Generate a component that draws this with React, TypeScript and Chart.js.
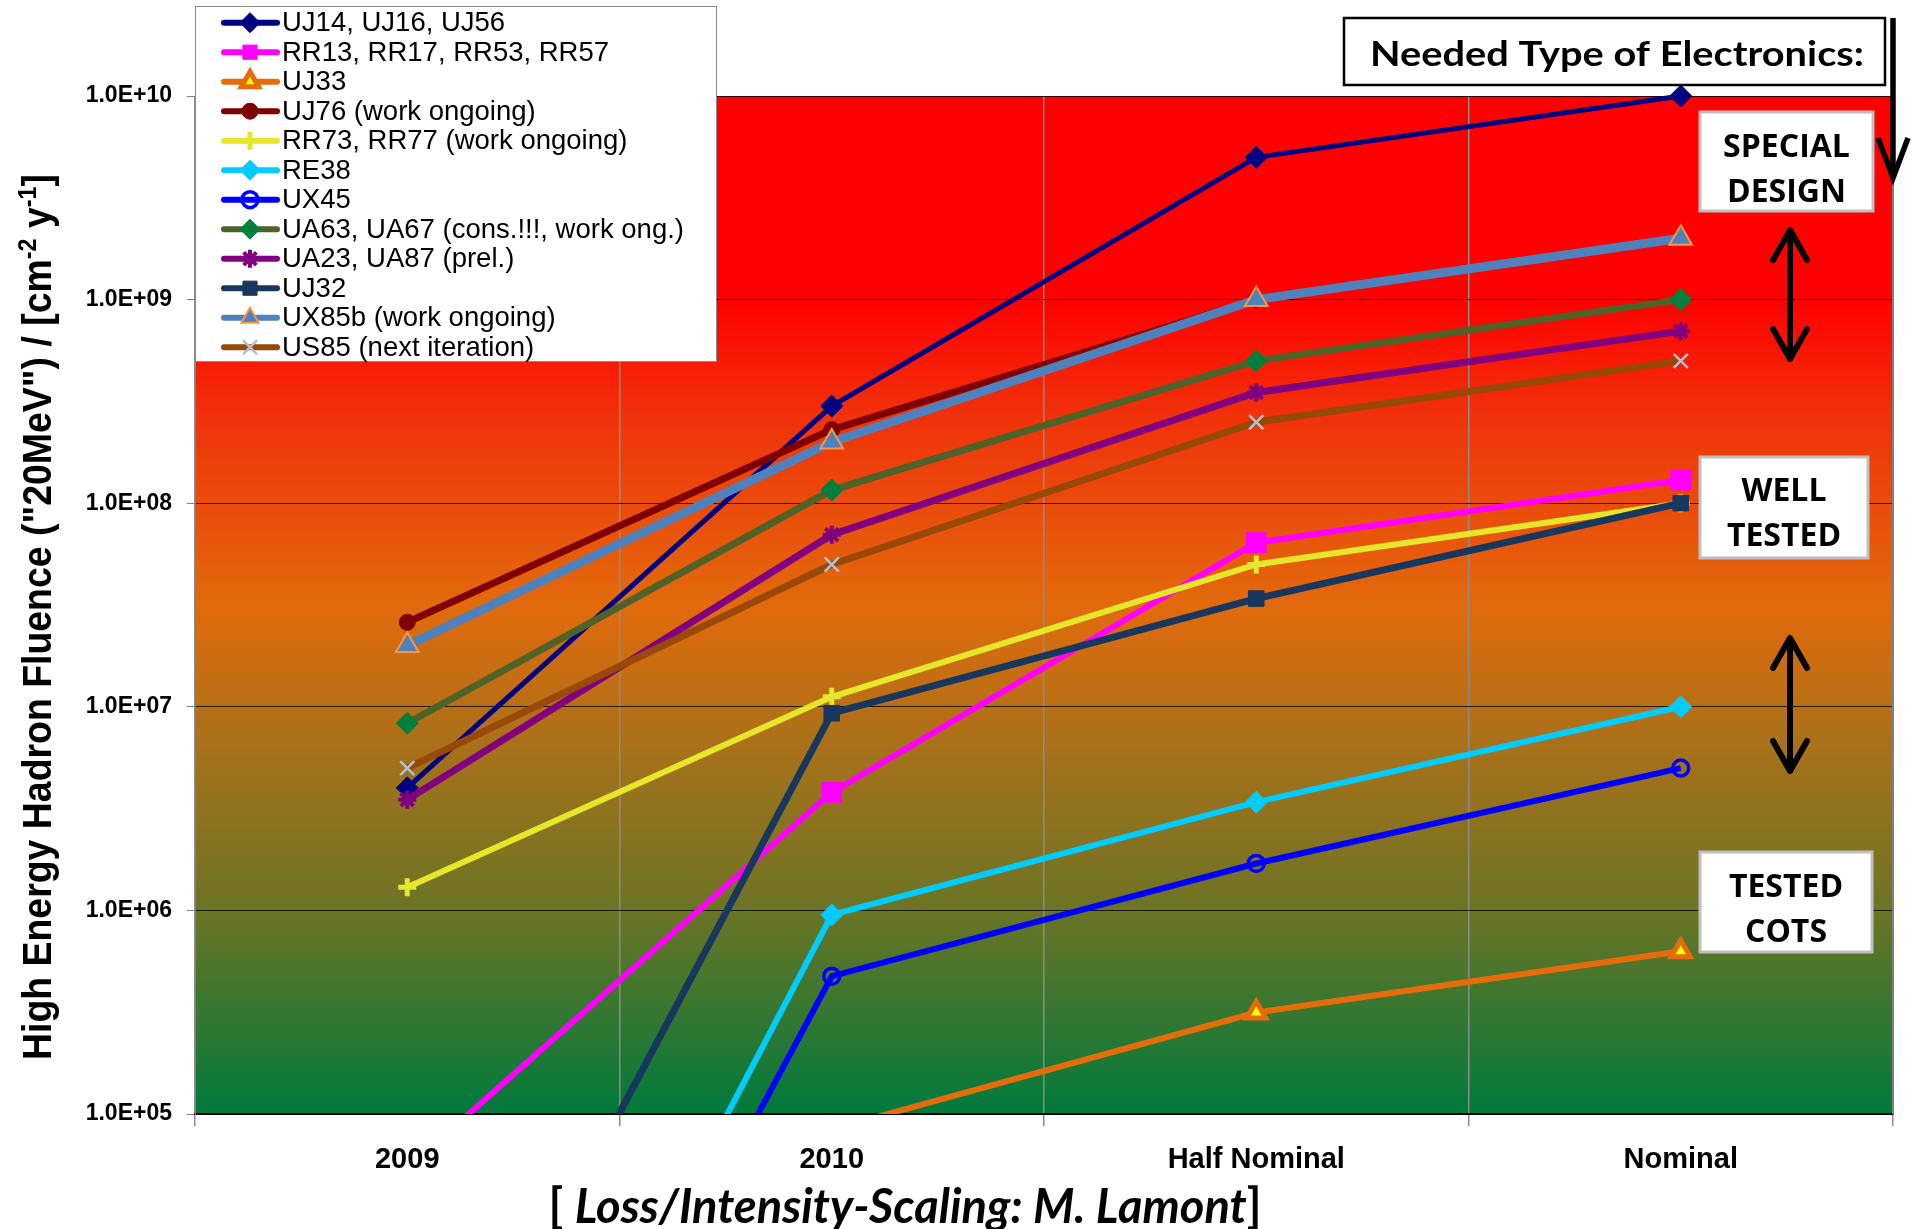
import React, { useEffect, useRef } from "react";
import { Chart, registerables } from "chart.js";

Chart.register(...registerables);

// ---------------- data ----------------
const categories = ["2009", "2010", "Half Nominal", "Nominal"];
const yTickValues = [1e5, 1e6, 1e7, 1e8, 1e9, 1e10];
const yTickLabels = ["1.0E+05", "1.0E+06", "1.0E+07", "1.0E+08", "1.0E+09", "1.0E+10"];

const seriesNames = [
  "UJ14, UJ16, UJ56",
  "RR13, RR17, RR53, RR57",
  "UJ33",
  "UJ76 (work ongoing)",
  "RR73, RR77 (work ongoing)",
  "RE38",
  "UX45",
  "UA63, UA67 (cons.!!!, work ong.)",
  "UA23, UA87 (prel.)",
  "UJ32",
  "UX85b (work ongoing)",
  "US85 (next iteration)",
];

const uj14 = [4.0e6, 3.0e8, 5.0e9, 1.0e10];
const rr13 = [5.4e4, 3.8e6, 6.4e7, 1.3e8];
const uj33 = [null, 8.4e4, 3.15e5, 6.3e5];
const uj76 = [2.6e7, 2.3e8, 1.0e9, null];
const rr73 = [1.3e6, 1.12e7, 5.0e7, 1.0e8];
const re38 = [1.0e2, 9.5e5, 3.4e6, 1.0e7];
const ux45 = [6.0e1, 4.75e5, 1.7e6, 5.0e6];
const ua63 = [8.3e6, 1.16e8, 5.0e8, 1.0e9];
const ua23 = [3.5e6, 7.0e7, 3.5e8, 7.0e8];
const uj32 = [1.1e3, 9.3e6, 3.4e7, 1.0e8];
const ux85b = [2.0e7, 2.0e8, 1.0e9, 2.0e9];
const us85 = [5.0e6, 5.0e7, 2.5e8, 5.0e8];

const seriesValues = [uj14, rr13, uj33, uj76, rr73, re38, ux45, ua63, ua23, uj32, ux85b, us85];

const yTitleMain = 'High Energy Hadron Fluence ("20MeV") / [cm';
const xTitleParts = ["[ ", "Loss/Intensity-Scaling: M. Lamont", "]"];
const neededLabel = "Needed Type of Electronics:";
const boxLabels = [
  ["SPECIAL", "DESIGN"],
  ["WELL", "TESTED"],
  ["TESTED", "COTS"],
];

// ---------------- styles ----------------
type St = { line: string; w: number; marker: string; r: number; fill: string; border: string; mw: number };
const styles: St[] = [
  { line: "#000080", w: 5, marker: "rectRot", r: 11, fill: "#000080", border: "#000080", mw: 1 },
  { line: "#FF00FF", w: 6, marker: "rect", r: 14, fill: "#FF00FF", border: "#FF00FF", mw: 1 },
  { line: "#E46C0A", w: 6, marker: "triangle", r: 11, fill: "#FFFF00", border: "#E46C0A", mw: 5 },
  { line: "#800000", w: 7, marker: "circle", r: 8, fill: "#800000", border: "#800000", mw: 1 },
  { line: "#E6E62A", w: 6, marker: "cross", r: 9, fill: "#E6E62A", border: "#E6E62A", mw: 5 },
  { line: "#00CCFF", w: 6, marker: "rectRot", r: 11, fill: "#00CCFF", border: "#00CCFF", mw: 1 },
  { line: "#0000FF", w: 6, marker: "circle", r: 8, fill: "rgba(0,0,0,0)", border: "#0000FF", mw: 3.5 },
  { line: "#4F6228", w: 7, marker: "rectRot", r: 11, fill: "#00803C", border: "#00803C", mw: 1 },
  { line: "#800080", w: 7, marker: "star", r: 9, fill: "#800080", border: "#800080", mw: 4 },
  { line: "#17375E", w: 7, marker: "rect", r: 11, fill: "#17375E", border: "#17375E", mw: 1 },
  { line: "#4F81BD", w: 9, marker: "triangle", r: 13, fill: "#4F81BD", border: "#F79646", mw: 2 },
  { line: "#984807", w: 7, marker: "crossRot", r: 10, fill: "#A9B9CF", border: "#B4C0D2", mw: 2.5 },
];

// ---------------- drawing helpers ----------------
function drawMarker(ctx: CanvasRenderingContext2D, s: St, x: number, y: number) {
  const r = s.r;
  ctx.save();
  ctx.lineWidth = s.mw;
  ctx.strokeStyle = s.border;
  ctx.fillStyle = s.fill;
  ctx.beginPath();
  if (s.marker === "rectRot") {
    ctx.moveTo(x, y - r); ctx.lineTo(x + r, y); ctx.lineTo(x, y + r); ctx.lineTo(x - r, y); ctx.closePath();
    ctx.fill(); ctx.stroke();
  } else if (s.marker === "rect") {
    const h = r * Math.SQRT1_2;
    ctx.rect(x - h, y - h, 2 * h, 2 * h); ctx.fill(); ctx.stroke();
  } else if (s.marker === "triangle") {
    const a = (Math.PI * 2) / 3;
    ctx.moveTo(x, y - r);
    ctx.lineTo(x + Math.sin(a) * r, y - Math.cos(a) * r);
    ctx.lineTo(x - Math.sin(a) * r, y - Math.cos(a) * r);
    ctx.closePath(); ctx.fill(); ctx.stroke();
  } else if (s.marker === "circle") {
    ctx.arc(x, y, r, 0, Math.PI * 2); ctx.fill(); ctx.stroke();
  } else if (s.marker === "cross" || s.marker === "star" || s.marker === "crossRot") {
    if (s.marker !== "crossRot") {
      ctx.moveTo(x, y - r); ctx.lineTo(x, y + r); ctx.moveTo(x - r, y); ctx.lineTo(x + r, y);
    }
    if (s.marker !== "cross") {
      const d = r * Math.SQRT1_2;
      ctx.moveTo(x - d, y - d); ctx.lineTo(x + d, y + d); ctx.moveTo(x + d, y - d); ctx.lineTo(x - d, y + d);
    }
    ctx.stroke();
  }
  ctx.restore();
}

type Seg = { t: string; font: string; dy?: number };
function drawSegs(ctx: CanvasRenderingContext2D, segs: Seg[], cx: number, baseY: number, target: number | null) {
  let total = 0;
  const ws = segs.map((s) => { ctx.font = s.font; const w = ctx.measureText(s.t).width; total += w; return w; });
  const k = target ? target / total : 1;
  ctx.save();
  ctx.translate(cx, baseY);
  ctx.scale(k, 1);
  ctx.textBaseline = "alphabetic";
  ctx.textAlign = "left";
  let x = -total / 2;
  segs.forEach((s, i) => { ctx.font = s.font; ctx.fillText(s.t, x, s.dy || 0); x += ws[i]; });
  ctx.restore();
}

function arrowHead(ctx: CanvasRenderingContext2D, x: number, tipY: number, dir: number, hw: number, hl: number) {
  ctx.beginPath();
  ctx.moveTo(x - hw, tipY - dir * hl);
  ctx.lineTo(x, tipY);
  ctx.lineTo(x + hw, tipY - dir * hl);
  ctx.stroke();
}

const bgPlugin = {
  id: "bgGradient",
  beforeDraw(chart: any) {
    const { ctx, chartArea: a } = chart;
    ctx.save();
    ctx.fillStyle = "#FFFFFF";
    ctx.fillRect(0, 0, chart.width, chart.height);
    const g = ctx.createLinearGradient(0, a.top, 0, a.bottom);
    g.addColorStop(0, "#FF0000");
    g.addColorStop(0.2, "#FF0000");
    g.addColorStop(0.31, "#F1300A");
    g.addColorStop(0.5, "#E26A0C");
    g.addColorStop(0.64, "#A8711A");
    g.addColorStop(0.8, "#6B7425");
    g.addColorStop(1, "#007A3C");
    ctx.fillStyle = g;
    ctx.fillRect(a.left, a.top, a.right - a.left, a.bottom - a.top);
    ctx.restore();
  },
};

const overlayPlugin = {
  id: "overlay",
  afterDraw(chart: any) {
    const { ctx, chartArea: a } = chart;
    ctx.save();
    // right border of plot
    ctx.strokeStyle = "#7F7F7F";
    ctx.lineWidth = 2;
    ctx.beginPath(); ctx.moveTo(a.right, a.top); ctx.lineTo(a.right, a.bottom); ctx.stroke();

    // legend
    const lx = 195, ly = 6, lw = 522, lh = 356;
    ctx.fillStyle = "#FFFFFF";
    ctx.fillRect(lx, ly, lw, lh);
    ctx.strokeStyle = "#8A8A8A";
    ctx.lineWidth = 1;
    ctx.strokeRect(lx + 0.5, ly + 0.5, lw - 1, lh - 1);
    chart.data.datasets.forEach((ds: any, i: number) => {
      const s = styles[i];
      const y = 22.7 + i * 29.5;
      ctx.strokeStyle = s.line;
      ctx.lineWidth = 6;
      ctx.lineCap = "round";
      ctx.beginPath(); ctx.moveTo(224, y); ctx.lineTo(277, y); ctx.stroke();
      ctx.lineCap = "butt";
      drawMarker(ctx, { ...s, r: Math.min(s.r, 10) }, 250, y);
      ctx.fillStyle = "#000000";
      ctx.font = '27.5px "Liberation Sans", Arial, sans-serif';
      ctx.textBaseline = "middle";
      ctx.textAlign = "left";
      ctx.fillText(ds.label, 282, y + 1);
    });

    // y axis title (rotated, with superscripts)
    ctx.fillStyle = "#000000";
    ctx.save();
    ctx.translate(51, 617);
    ctx.rotate(-Math.PI / 2);
    const bf = 'bold 40px "Liberation Sans", Arial, sans-serif';
    const sf = 'bold 25px "Liberation Sans", Arial, sans-serif';
    drawSegs(ctx, [
      { t: yTitleMain, font: bf },
      { t: "-2", font: sf, dy: -15 },
      { t: " y", font: bf },
      { t: "-1", font: sf, dy: -15 },
      { t: "]", font: bf },
    ], 0, 0, 886);
    ctx.restore();

    // x axis title
    drawSegs(ctx, [
      { t: xTitleParts[0], font: 'bold 48px Lato, "Open Sans", sans-serif' },
      { t: xTitleParts[1], font: 'italic bold 48px Lato, "Open Sans", sans-serif' },
      { t: xTitleParts[2], font: 'bold 48px Lato, "Open Sans", sans-serif' },
    ], 905, 1223, 713);

    // "Needed Type of Electronics:" box and arrow
    ctx.fillStyle = "#FFFFFF";
    ctx.fillRect(1344, 18, 541, 67);
    ctx.strokeStyle = "#000000";
    ctx.lineWidth = 2.5;
    ctx.strokeRect(1344, 18, 541, 67);
    ctx.fillStyle = "#000000";
    drawSegs(ctx, [{ t: neededLabel, font: 'bold 34px Lato, "Open Sans", sans-serif' }], 1617, 66, 494);

    ctx.lineWidth = 5.5;
    ctx.lineCap = "butt";
    ctx.beginPath(); ctx.moveTo(1893, 18); ctx.lineTo(1893, 176); ctx.stroke();
    ctx.lineJoin = "miter";
    arrowHead(ctx, 1893, 178, 1, 15, 40);

    // category boxes
    const boxes = [
      { x: 1700, y: 112, w: 173, h: 99, c1: 145, c2: 190 },
      { x: 1700, y: 457, w: 168, h: 101, c1: 489, c2: 534 },
      { x: 1700, y: 852, w: 172, h: 100, c1: 885, c2: 930 },
    ];
    boxes.forEach((b, i) => {
      ctx.fillStyle = "#FFFFFF";
      ctx.fillRect(b.x, b.y, b.w, b.h);
      ctx.strokeStyle = "#BFBFBF";
      ctx.lineWidth = 3;
      ctx.strokeRect(b.x, b.y, b.w, b.h);
      ctx.fillStyle = "#000000";
      ctx.font = 'bold 32px "Open Sans", Lato, sans-serif';
      ctx.textAlign = "center";
      ctx.textBaseline = "alphabetic";
      ctx.fillText(boxLabels[i][0], b.x + b.w / 2, b.c1 + 11.5);
      ctx.fillText(boxLabels[i][1], b.x + b.w / 2, b.c2 + 11.5);
    });

    // double arrows
    ctx.strokeStyle = "#000000";
    ctx.lineWidth = 6;
    ctx.lineCap = "round";
    ctx.lineJoin = "round";
    [[230, 359], [638, 771]].forEach(([t, bt]) => {
      ctx.beginPath(); ctx.moveTo(1790, t + 3); ctx.lineTo(1790, bt - 3); ctx.stroke();
      arrowHead(ctx, 1790, t, -1, 17, 30);
      arrowHead(ctx, 1790, bt, 1, 17, 30);
    });
    ctx.restore();
  },
};

export default function App() {
  const ref = useRef<HTMLCanvasElement>(null);
  useEffect(() => {
    document.body.style.margin = "0";
    const N = seriesNames.length;
    const chart = new Chart(ref.current as HTMLCanvasElement, {
      type: "line",
      data: {
        labels: categories,
        datasets: seriesNames.map((name, i) => ({
          label: name,
          data: seriesValues[i] as any,
          borderColor: styles[i].line,
          backgroundColor: styles[i].fill,
          borderWidth: styles[i].w,
          pointStyle: styles[i].marker as any,
          pointRadius: styles[i].r,
          pointHoverRadius: styles[i].r,
          pointBackgroundColor: styles[i].fill,
          pointBorderColor: styles[i].border,
          pointBorderWidth: styles[i].mw,
          tension: 0,
          spanGaps: false,
          fill: false,
          order: N - i,
          clip: { left: 0, top: 16, right: 0, bottom: 0 } as any,
        })),
      },
      options: {
        responsive: false,
        animation: false,
        devicePixelRatio: 1,
        events: [],
        layout: { padding: { top: 96, right: 19, left: 0, bottom: 0 } },
        plugins: { legend: { display: false }, tooltip: { enabled: false }, title: { display: false } },
        scales: {
          x: {
            type: "category",
            offset: true,
            grid: { offset: true, color: "#8C8C8C", lineWidth: 1.5, tickLength: 12, tickColor: "#8C8C8C" },
            border: { display: true, color: "#000000", width: 2 },
            ticks: {
              color: "#000000",
              padding: 17,
              maxRotation: 0,
              font: { family: '"Liberation Sans", Arial, sans-serif', size: 29, weight: "bold" },
            },
            afterFit: (s: any) => { s.height = 115; },
          },
          y: {
            type: "logarithmic",
            min: 1e5,
            max: 1e10,
            grid: { color: "rgba(0,0,0,0.8)", lineWidth: 1, tickLength: 8, tickColor: "#7F7F7F" },
            border: { display: true, color: "#7F7F7F", width: 1 },
            afterBuildTicks: (s: any) => { s.ticks = yTickValues.map((v) => ({ value: v })); },
            ticks: {
              color: "#000000",
              padding: 15,
              autoSkip: false,
              font: { family: '"Liberation Sans", Arial, sans-serif', size: 23, weight: "bold" },
              callback: (_v: any, i: number) => yTickLabels[i],
            },
            afterFit: (s: any) => { s.width = 195; },
          },
        },
      },
      plugins: [bgPlugin, overlayPlugin],
    });
    return () => chart.destroy();
  }, []);
  return (
    <div style={{ width: 1912, height: 1229, overflow: "hidden" }}>
      <canvas ref={ref} width={1912} height={1229} style={{ display: "block" }} />
    </div>
  );
}
